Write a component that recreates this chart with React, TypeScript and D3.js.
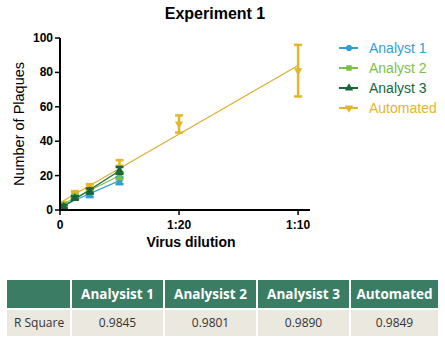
import React from "react";
import * as d3 from "d3";

const dilutions = [1 / 640, 1 / 160, 1 / 80, 1 / 40, 1 / 20, 1 / 10];
const xTickValues = [0, 1 / 20, 1 / 10];
const xTickLabels = ["0", "1:20", "1:10"];
const yTickValues = [0, 20, 40, 60, 80, 100];

const seriesNames = ["Analyst 1", "Analyst 2", "Analyst 3", "Automated"];
const analyst1 = [2, 7, 9, 17];
const analyst1Err = [1, 1, 1.5, 2];
const analyst2 = [3, 8, 11, 20];
const analyst2Err = [1, 1, 1.5, 2];
const analyst3 = [2, 7, 11, 23];
const analyst3Err = [1, 1, 1.5, 2];
const automated = [3, 9, 13, 25, 50, 81];
const automatedErr = [1.5, 2, 2, 4, 5, 15];

const tableHeaders = ["", "Analysist 1", "Analysist 2", "Analysist 3", "Automated"];
const tableRow = ["R Square", "0.9845", "0.9801", "0.9890", "0.9849"];

const colors = ["#2f9fd6", "#7cbf45", "#16663a", "#e4b628"];
const markerTypes = [d3.symbolCircle, d3.symbolSquare, d3.symbolTriangle, d3.symbolTriangle];

const allSeries = [
  { vals: analyst1, errs: analyst1Err },
  { vals: analyst2, errs: analyst2Err },
  { vals: analyst3, errs: analyst3Err },
  { vals: automated, errs: automatedErr },
];

function fit(xs: number[], ys: number[]) {
  const mx = d3.mean(xs)!;
  const my = d3.mean(ys)!;
  let num = 0, den = 0;
  xs.forEach((x, i) => { num += (x - mx) * (ys[i] - my); den += (x - mx) ** 2; });
  const b = num / den;
  return { a: my - b * mx, b };
}

export default function App() {
  const x = d3.scaleLinear().domain([0, 0.105]).range([60, 310]);
  const y = d3.scaleLinear().domain([0, 100]).range([210, 38]);
  const font = "Arial, 'Liberation Sans', sans-serif";
  const colX = [7, 72, 165, 258, 351];
  const colW = [63, 91, 91, 91, 87];

  const drawOrder = [3, 0, 1, 2];
  return (
    <svg width={445} height={350} style={{ position: "absolute", left: 0, top: 0, background: "#fff" }}>
      <text x={215} y={19} textAnchor="middle" fontFamily={font} fontWeight="bold" fontSize={16}>Experiment 1</text>
      {/* fit lines */}
      {drawOrder.map((si) => {
        const s = allSeries[si];
        const xs = dilutions.slice(0, s.vals.length);
        const f = fit(xs, s.vals);
        const x1 = 0, x2 = xs[xs.length - 1];
        return (
          <line key={"f" + si} x1={x(x1)} y1={y(Math.max(0, f.a + f.b * x1))} x2={x(x2)} y2={y(f.a + f.b * x2)}
            stroke={si === 3 ? "#d8b030" : colors[si]} strokeWidth={1.2} />
        );
      })}
      {/* error bars & markers */}
      {drawOrder.map((si) => {
        const s = allSeries[si];
        return (
          <g key={"s" + si}>
            {s.vals.map((v, i) => {
              const cx = x(dilutions[i]);
              const top = y(v + s.errs[i]);
              const bot = y(v - s.errs[i]);
              const sym = d3.symbol().type(markerTypes[si]).size(si === 1 ? 26 : 30)();
              return (
                <g key={i}>
                  <line x1={cx} x2={cx} y1={top} y2={bot} stroke={colors[si]} strokeWidth={2.5} />
                  <line x1={cx - 4} x2={cx + 4} y1={top} y2={top} stroke={colors[si]} strokeWidth={2.5} />
                  <line x1={cx - 4} x2={cx + 4} y1={bot} y2={bot} stroke={colors[si]} strokeWidth={2.5} />
                  <path d={sym!} transform={`translate(${cx},${y(v)})${si === 3 ? " rotate(180)" : ""}`} fill={colors[si]} />
                </g>
              );
            })}
          </g>
        );
      })}
      {/* axes */}
      <line x1={60} x2={60} y1={y(100)} y2={y(0)} stroke="#000" strokeWidth={2} />
      <line x1={59} x2={310} y1={y(0)} y2={y(0)} stroke="#000" strokeWidth={2} />
      {yTickValues.map((t) => (
        <g key={"y" + t}>
          <line x1={55} x2={60} y1={y(t)} y2={y(t)} stroke="#000" strokeWidth={1.5} />
          <text x={53} y={y(t) + 4} textAnchor="end" fontFamily={font} fontWeight="bold" fontSize={12}>{t}</text>
        </g>
      ))}
      {xTickValues.map((t, i) => (
        <g key={"x" + i}>
          <line x1={x(t)} x2={x(t)} y1={y(0)} y2={y(0) + 5} stroke="#000" strokeWidth={1.5} />
          <text x={x(t)} y={y(0) + 19} textAnchor="middle" fontFamily={font} fontWeight="bold" fontSize={12}>{xTickLabels[i]}</text>
        </g>
      ))}
      <text x={191} y={247} textAnchor="middle" fontFamily={font} fontWeight="bold" fontSize={14}>Virus dilution</text>
      <text transform="translate(24,124) rotate(-90)" textAnchor="middle" fontFamily={font} fontSize={14.5}>Number of Plaques</text>
      {/* legend */}
      {seriesNames.map((n, i) => {
        const ly = 48 + i * 20;
        const sym = d3.symbol().type(markerTypes[i]).size(30)();
        return (
          <g key={"l" + i}>
            <line x1={339} x2={358} y1={ly} y2={ly} stroke={colors[i]} strokeWidth={2} />
            <path d={sym!} transform={`translate(349,${ly})${i === 3 ? " rotate(180)" : ""}`} fill={colors[i]} />
            <text x={369} y={ly + 5} fontFamily={font} fontSize={14} fill={colors[i]}>{n}</text>
          </g>
        );
      })}
      {/* table */}
      {tableHeaders.map((h, i) => (
        <g key={"h" + i}>
          <rect x={colX[i]} y={280} width={colW[i]} height={28} fill="#3b7d64" />
          <text x={colX[i] + colW[i] / 2} y={299} textAnchor="middle" fontFamily="'Open Sans', sans-serif" fontWeight="bold" fontSize={13.5} fill="#fff">{h}</text>
        </g>
      ))}
      {tableRow.map((c, i) => (
        <g key={"r" + i}>
          <rect x={colX[i]} y={310} width={colW[i]} height={26} fill="#ebe8e0" />
          <text x={i === 0 ? colX[i] + 7 : colX[i] + colW[i] / 2} y={327} textAnchor={i === 0 ? "start" : "middle"} fontFamily="'Open Sans', sans-serif" fontSize={12} fill="#333">{c}</text>
        </g>
      ))}
    </svg>
  );
}
